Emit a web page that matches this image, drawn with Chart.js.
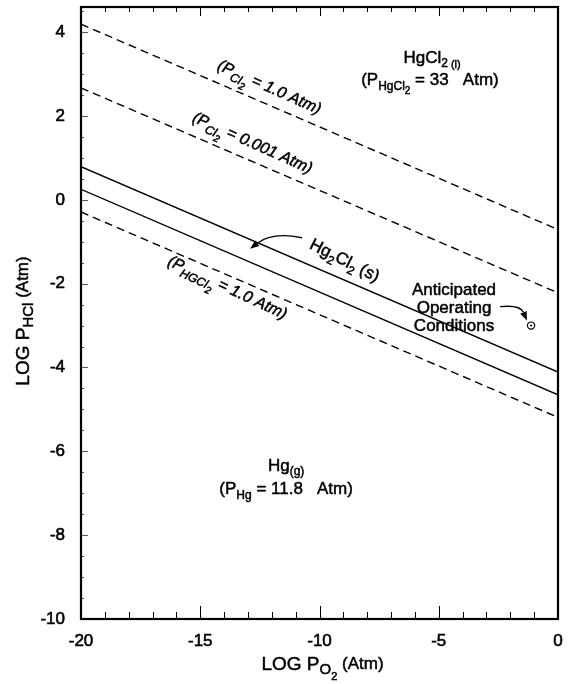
<!DOCTYPE html>
<html><head><meta charset="utf-8">
<script src="https://cdn.jsdelivr.net/npm/chart.js@4"></script>
<style>html,body{margin:0;padding:0;background:#fff}#wrap{width:572px;height:684px;position:relative}</style>
</head><body><div id="wrap"><canvas id="c" width="572" height="684"></canvas></div>
<script>
// ---- data ----
const xEnds = [-20, 0];                 // LOG P_O2 at both ends of every line
const pCl2_1 = [4.19, -0.71];           // (P_Cl2 = 1.0 Atm)
const pCl2_0001 = [2.67, -2.22];        // (P_Cl2 = 0.001 Atm)
const hg2cl2Upper = [0.79, -4.11];      // Hg2Cl2 (s) upper boundary
const hg2cl2Lower = [0.25, -4.65];      // Hg2Cl2 (s) lower boundary
const pHgCl2_1 = [-0.29, -5.19];        // (P_HGCl2 = 1.0 Atm)
const operatingPoint = [-1.13, -3.0];   // Anticipated Operating Conditions
const xTickLabels = [-20, -15, -10, -5, 0];
const yTickLabels = [-10, -8, -6, -4, -2, 0, 2, 4];

const FAM = '"Liberation Sans", Arial, Helvetica, sans-serif';
function pts(ys){ return xEnds.map((x,i)=>({x:x, y:ys[i]})); }

function drawRich(ctx, parts, x, y, opt) {
  opt = opt || {};
  const st = opt.italic ? 'italic ' : '';
  const widths = parts.map(p => { ctx.font = st + p[1] + 'px ' + FAM; return ctx.measureText(p[0]).width; });
  const total = widths.reduce((a,b)=>a+b,0);
  ctx.save();
  ctx.translate(x, y);
  if (opt.rot) ctx.rotate(opt.rot*Math.PI/180);
  let cx = -total/2;
  const base = opt.mid ? 6 : 0;
  ctx.textAlign = 'left'; ctx.textBaseline = 'alphabetic';
  ctx.fillStyle = '#000'; ctx.strokeStyle = '#000'; ctx.lineWidth = 0.5; ctx.lineJoin = 'round';
  parts.forEach((p,i) => {
    ctx.font = st + p[1] + 'px ' + FAM;
    ctx.fillText(p[0], cx, (p[2]||0) + base);
    ctx.strokeText(p[0], cx, (p[2]||0) + base);
    cx += widths[i];
  });
  ctx.restore();
}

function arrow(ctx, xs, ys, a) {
  const p0 = [xs.getPixelForValue(a.from[0]), ys.getPixelForValue(a.from[1])];
  const c = [xs.getPixelForValue(a.ctrl[0]), ys.getPixelForValue(a.ctrl[1])];
  const p1 = [xs.getPixelForValue(a.to[0]), ys.getPixelForValue(a.to[1])];
  const ang = Math.atan2(p1[1]-c[1], p1[0]-c[0]);
  const L = 9, W = 3.5;
  const bx = p1[0] - L*Math.cos(ang), by = p1[1] - L*Math.sin(ang);
  ctx.save();
  ctx.strokeStyle = '#000'; ctx.fillStyle = '#000'; ctx.lineWidth = 1.3;
  ctx.beginPath(); ctx.moveTo(p0[0], p0[1]); ctx.quadraticCurveTo(c[0], c[1], bx, by); ctx.stroke();
  ctx.beginPath();
  ctx.moveTo(p1[0], p1[1]);
  ctx.lineTo(bx + W*Math.sin(ang), by - W*Math.cos(ang));
  ctx.lineTo(bx - W*Math.sin(ang), by + W*Math.cos(ang));
  ctx.closePath(); ctx.fill();
  ctx.restore();
}

const labels = [
  {at:[-5.28, 3.26], parts:[['HgCl',17,0],['2',12,4],[' (l)',11,5]]},
  {at:[-5.37, 2.74], parts:[['(P',17,0],['HgCl',12,5],['2',10,9],[' = 33   Atm)',17,0]]},
  {at:[-12.08, 2.71], rot:24, italic:true, mid:true, parts:[['(P',16,0],['Cl',12,5],['2',10,9],[' = 1.0 Atm)',16,0]]},
  {at:[-12.79, 1.38], rot:24, italic:true, mid:true, parts:[['(P',16,0],['Cl',12,5],['2',10,9],[' = 0.001 Atm)',16,0]]},
  {at:[-8.93, -1.43], rot:27, mid:true, parts:[['Hg',17,0],['2',12,5],['Cl',17,0],['2',12,5],[' (s)',17,0]]},
  {at:[-13.84, -2.07], rot:25, italic:true, mid:true, parts:[['(P',16,0],['HGCl',12,5],['2',10,9],[' = 1.0 Atm)',16,0]]},
  {at:[-4.36, -2.26], parts:[['Anticipated',17,0]]},
  {at:[-4.36, -2.69], parts:[['Operating',17,0]]},
  {at:[-4.36, -3.12], parts:[['Conditions',17,0]]},
  {at:[-11.40, -6.48], parts:[['Hg',17,0],['(g)',12,4]]},
  {at:[-11.40, -7.02], parts:[['(P',17,0],['Hg',12,5],[' = 11.8   Atm)',17,0]]}
];
const arrows = [
  {from:[-10.73, -0.905], ctrl:[-11.99, -0.76], to:[-12.91, -1.17]},
  {from:[-2.43, -2.55], ctrl:[-1.59, -2.50], to:[-1.30, -2.88]}
];

const decor = {
  id: 'decor',
  afterDatasetsDraw(chart) {
    const ctx = chart.ctx, a = chart.chartArea;
    const xs = chart.scales.x, ys = chart.scales.y;
    ctx.save();
    ctx.strokeStyle = '#000';
    ctx.lineWidth = 1;
    for (let v = -19; v <= -1; v++) {
      const px = Math.round(xs.getPixelForValue(v)) + 0.5;
      const major = v % 5 === 0;
      ctx.beginPath(); ctx.moveTo(px, a.bottom); ctx.lineTo(px, a.bottom - (major ? 13 : 7)); ctx.stroke();
      ctx.beginPath(); ctx.moveTo(px, a.top); ctx.lineTo(px, a.top + (major ? 9 : 5)); ctx.stroke();
    }
    ctx.strokeStyle = '#555';
    for (let v = -9.5; v <= 4.5; v += 0.5) {
      const py = Math.round(ys.getPixelForValue(v)) + 0.5;
      const major = Math.abs(v % 2) < 1e-9;
      ctx.beginPath(); ctx.moveTo(a.left, py); ctx.lineTo(a.left + (major ? 7 : 3), py); ctx.stroke();
    }
    ctx.strokeStyle = '#000';
    ctx.lineWidth = 2.2;
    ctx.strokeRect(a.left, a.top, a.right - a.left, a.bottom - a.top);
    ctx.restore();

    labels.forEach(l => drawRich(ctx, l.parts, xs.getPixelForValue(l.at[0]), ys.getPixelForValue(l.at[1]), l));
    arrows.forEach(ar => arrow(ctx, xs, ys, ar));

    const cx = (a.left + a.right) / 2, cy = (a.top + a.bottom) / 2;
    drawRich(ctx, [['LOG P',19,0],['O',15,4],['2',11,10],[' (Atm)',17,-1]], cx + 3, 670);
    drawRich(ctx, [['LOG P',19,0],['HCl',15,4],[' (Atm)',17,-1]], 29, cy + 8, {rot:-90});
  }
};

new Chart(document.getElementById('c'), {
  type: 'scatter',
  data: {
    datasets: [
      {label:'P_Cl2 = 1.0 Atm', data: pts(pCl2_1), showLine:true, borderColor:'#000', borderWidth:1.4, borderDash:[8,5], pointRadius:0},
      {label:'P_Cl2 = 0.001 Atm', data: pts(pCl2_0001), showLine:true, borderColor:'#000', borderWidth:1.4, borderDash:[8,5], pointRadius:0},
      {label:'Hg2Cl2 upper', data: pts(hg2cl2Upper), showLine:true, borderColor:'#000', borderWidth:1.4, pointRadius:0},
      {label:'Hg2Cl2 lower', data: pts(hg2cl2Lower), showLine:true, borderColor:'#000', borderWidth:1.4, pointRadius:0},
      {label:'P_HgCl2 = 1.0 Atm', data: pts(pHgCl2_1), showLine:true, borderColor:'#000', borderWidth:1.4, borderDash:[8,5], pointRadius:0},
      {label:'Operating ring', data:[{x:operatingPoint[0], y:operatingPoint[1]}], pointRadius:3.6, pointBorderColor:'#000', pointBackgroundColor:'rgba(0,0,0,0)', pointBorderWidth:1.2},
      {label:'Operating dot', data:[{x:operatingPoint[0], y:operatingPoint[1]}], pointRadius:1, pointBorderWidth:0, pointBackgroundColor:'#000'}
    ]
  },
  options: {
    responsive: false, animation: false, devicePixelRatio: 1,
    layout: {padding: {left: 0, top: 7, right: 14, bottom: 0}},
    plugins: {legend: {display: false}, tooltip: {enabled: false}},
    scales: {
      x: {
        type: 'linear', min: -20, max: 0,
        afterBuildTicks: s => { s.ticks = xTickLabels.map(v => ({value: v})); },
        afterFit: s => { s.height = 65; s.paddingLeft = 0; s.paddingRight = 0; },
        ticks: {font: {family: FAM, size: 17}, color: '#000', textStrokeColor: '#000', textStrokeWidth: 0.6, padding: 12, maxRotation: 0, autoSkip: false},
        grid: {display: false, drawTicks: false}, border: {display: false}
      },
      y: {
        type: 'linear', min: -10, max: 4.6,
        afterBuildTicks: s => { s.ticks = yTickLabels.map(v => ({value: v})); },
        afterFit: s => { s.width = 81; s.paddingTop = 0; s.paddingBottom = 0; },
        ticks: {font: {family: FAM, size: 17}, color: '#000', textStrokeColor: '#000', textStrokeWidth: 0.6, padding: 16, autoSkip: false},
        grid: {display: false, drawTicks: false}, border: {display: false}
      }
    }
  },
  plugins: [decor]
});
</script></body></html>
